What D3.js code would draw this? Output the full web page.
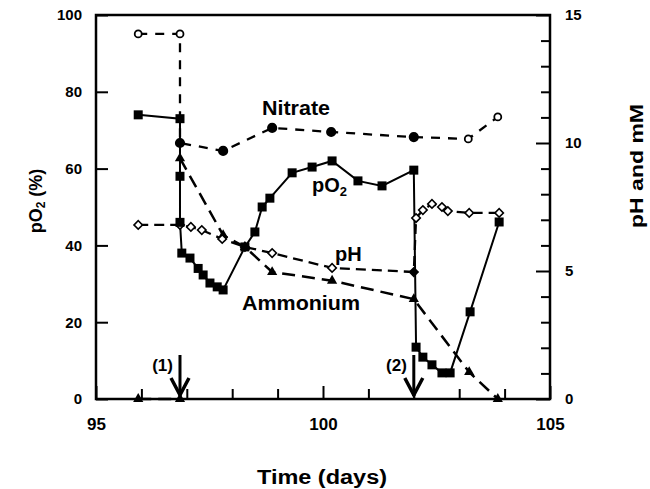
<!DOCTYPE html>
<html><head><meta charset="utf-8">
<script src="https://cdn.jsdelivr.net/npm/d3@7"></script>
<style>
html,body{margin:0;padding:0;background:#fff;}
svg{display:block;font-family:"Liberation Sans",Arial,Helvetica,sans-serif;font-weight:bold;}
</style></head>
<body>
<svg id="chart" width="650" height="489"></svg>
<script>
// ---- data ----
const pO2Days = [95.93, 96.85, 96.85, 96.85, 96.89, 97.07, 97.25, 97.36, 97.51, 97.67, 97.8, 98.28, 98.5, 98.66, 98.83, 99.32, 99.76, 100.2, 100.77, 101.3, 102.0, 102.05, 102.2, 102.4, 102.62, 102.8, 103.24, 103.88];
const pO2Values = [74, 73, 58, 46, 38, 36.7, 34, 32.3, 30.2, 29.2, 28.4, 39.6, 43.5, 50, 52.3, 58.9, 60.4, 62, 56.8, 55.5, 59.6, 13.5, 10.9, 8.9, 6.8, 6.8, 22.7, 46.1];

const nitrateDays = [95.93, 96.85, 96.85, 97.8, 98.88, 100.18, 102.0, 103.2, 103.85];
const nitrateValues = [14.26, 14.26, 10.0, 9.69, 10.59, 10.43, 10.23, 10.16, 11.02];
const nitrateOpen = [true, true, false, false, false, false, false, true, true];

const pHDays = [95.93, 96.85, 97.09, 97.33, 97.78, 98.28, 98.88, 100.2, 102.0, 102.05, 102.2, 102.4, 102.62, 102.75, 103.22, 103.88];
const pHValues = [6.8, 6.8, 6.72, 6.6, 6.25, 5.94, 5.7, 5.12, 4.96, 7.07, 7.38, 7.62, 7.5, 7.34, 7.27, 7.27];
const pHFilled = [false, false, false, false, false, false, false, false, true, false, false, false, false, false, false, false];

// ammonium: before addition (1) and after addition (1)
const ammoniumBeforeDays = [95.93, 96.85];
const ammoniumBeforeValues = [0, 0];
const ammoniumDays = [96.85, 97.8, 98.28, 98.88, 100.2, 102.0, 103.22, 103.85];
const ammoniumValues = [9.4, 6.4, 5.94, 4.96, 4.62, 3.9, 1.05, 0];

const xTicks = [96, 97, 98, 99, 101, 102, 103, 104];
const xLabels = [95, 100, 105];
const leftTicks = [0, 20, 40, 60, 80, 100];
const rightMinor = [1, 2, 3, 4, 6, 7, 8, 9, 11, 12, 13, 14];
const rightMajor = [0, 5, 10, 15];
const additionDays = [96.85, 102.0];
const additionLabels = ["(1)", "(2)"];

// ---- layout ----
const svg = d3.select("#chart");
const L = 96, R = 550, T = 15, B = 399;
const x = d3.scaleLinear().domain([95, 105]).range([L, R]);
const yL = d3.scaleLinear().domain([0, 100]).range([B, T]);
const yR = d3.scaleLinear().domain([0, 15]).range([B, T]);

function zip(a, b) { return a.map((d, i) => [d, b[i]]); }
const pO2 = zip(pO2Days, pO2Values);
const nitrate = zip(nitrateDays, nitrateValues);
const pH = zip(pHDays, pHValues);
const ammBefore = zip(ammoniumBeforeDays, ammoniumBeforeValues);
const amm = zip(ammoniumDays, ammoniumValues);

// axes
const axL = svg.append("g").attr("transform", `translate(${L},0)`)
  .call(d3.axisLeft(yL).tickValues(leftTicks).tickSize(-12).tickPadding(14).tickFormat(d3.format("d")));
const axRm = svg.append("g").attr("transform", `translate(${R},0)`)
  .call(d3.axisRight(yR).tickValues(rightMinor).tickSize(-9).tickFormat(""));
const axRM = svg.append("g").attr("transform", `translate(${R},0)`)
  .call(d3.axisRight(yR).tickValues(rightMajor).tickSize(-14).tickPadding(15).tickFormat(d3.format("d")));
const axB = svg.append("g").attr("transform", `translate(0,${B})`)
  .call(d3.axisBottom(x).tickValues(xTicks).tickSize(-10).tickFormat(""));
const axBL = svg.append("g").attr("transform", `translate(0,${B})`)
  .call(d3.axisBottom(x).tickValues(xLabels).tickSize(-13).tickPadding(19).tickFormat(d3.format("d")));
[axL, axRm, axRM, axB, axBL].forEach(g => {
  g.select(".domain").remove();
  g.selectAll(".tick line").attr("stroke", "#000").attr("stroke-width", 2);
  g.selectAll("text").attr("fill", "#000").attr("font-family", "Liberation Sans, Arial, sans-serif").attr("font-weight", "bold");
});
axL.selectAll("text").attr("font-size", 15);
axRM.selectAll("text").attr("font-size", 15);
axBL.selectAll("text").attr("font-size", 17);

// frame
svg.append("rect").attr("x", L).attr("y", T).attr("width", R - L).attr("height", B - T)
  .attr("fill", "none").attr("stroke", "#000").attr("stroke-width", 2.5);

// lines
const lineL = d3.line().x(d => x(d[0])).y(d => yL(d[1]));
const lineR = d3.line().x(d => x(d[0])).y(d => yR(d[1]));

[ammBefore, amm].forEach(s => {
  svg.append("path").datum(s).attr("d", lineR).attr("fill", "none").attr("stroke", "#000")
    .attr("stroke-width", 2.5).attr("stroke-dasharray", "13,7");
});
svg.append("path").datum(pH).attr("d", lineR).attr("fill", "none").attr("stroke", "#000")
  .attr("stroke-width", 2.3).attr("stroke-dasharray", "10,6");
svg.append("path").datum(nitrate).attr("d", lineR).attr("fill", "none").attr("stroke", "#000")
  .attr("stroke-width", 2.3).attr("stroke-dasharray", "9,8");
svg.append("path").datum(pO2).attr("d", lineL).attr("fill", "none").attr("stroke", "#000")
  .attr("stroke-width", 2);

// markers
svg.append("g").selectAll("path").data(ammBefore.concat(amm)).join("path")
  .attr("transform", d => `translate(${x(d[0])},${yR(d[1])})`)
  .attr("d", d3.symbol().type(d3.symbolTriangle).size(45)).attr("fill", "#000");
svg.append("g").selectAll("path").data(pH).join("path")
  .attr("transform", d => `translate(${x(d[0])},${yR(d[1])}) rotate(45)`)
  .attr("d", d3.symbol().type(d3.symbolSquare).size(36))
  .attr("fill", (d, i) => pHFilled[i] ? "#000" : "#fff").attr("stroke", "#000").attr("stroke-width", 1.6);
svg.append("g").selectAll("circle").data(nitrate).join("circle")
  .attr("cx", d => x(d[0])).attr("cy", d => yR(d[1])).attr("r", (d, i) => nitrateOpen[i] ? 3.5 : 4.2)
  .attr("fill", (d, i) => nitrateOpen[i] ? "#fff" : "#000").attr("stroke", "#000").attr("stroke-width", 1.8);
svg.append("g").selectAll("rect").data(pO2).join("rect")
  .attr("x", d => x(d[0]) - 4.5).attr("y", d => yL(d[1]) - 4.5).attr("width", 9).attr("height", 9)
  .attr("fill", "#000");

// addition arrows
additionDays.forEach((d, i) => {
  const ax = x(d);
  const g = svg.append("g");
  g.append("line").attr("x1", ax).attr("x2", ax).attr("y1", 355).attr("y2", 396)
    .attr("stroke", "#000").attr("stroke-width", 3);
  g.append("path").attr("d", `M${ax - 9},${378} L${ax},${395} L${ax + 9},${378}`)
    .attr("fill", "none").attr("stroke", "#000").attr("stroke-width", 3.5);
  g.append("text").attr("x", ax - 7).attr("y", 371).attr("text-anchor", "end")
    .attr("font-size", 17).text(additionLabels[i]);
});

// series labels
svg.append("text").attr("x", 262).attr("y", 115).attr("font-size", 20)
  .attr("textLength", 68).attr("lengthAdjust", "spacingAndGlyphs").text("Nitrate");
const po = svg.append("text").attr("x", 312).attr("y", 192).attr("font-size", 20);
po.append("tspan").text("pO");
po.append("tspan").attr("font-size", 13).attr("dy", 4).text("2");
svg.append("text").attr("x", 335).attr("y", 261).attr("font-size", 20).text("pH");
svg.append("text").attr("x", 242).attr("y", 310).attr("font-size", 20)
  .attr("textLength", 118).attr("lengthAdjust", "spacingAndGlyphs").text("Ammonium");

// axis titles
const lt = svg.append("text").attr("transform", "translate(42,201) rotate(-90)")
  .attr("text-anchor", "middle").attr("font-size", 18);
lt.append("tspan").text("pO");
lt.append("tspan").attr("font-size", 12).attr("dy", 3).text("2");
lt.append("tspan").attr("dy", -3).text(" (%)");
svg.append("text").attr("transform", "translate(643,166) rotate(-90)")
  .attr("text-anchor", "middle").attr("font-size", 18).attr("textLength", 124)
  .attr("lengthAdjust", "spacingAndGlyphs").text("pH and mM");
svg.append("text").attr("x", 322).attr("y", 484).attr("text-anchor", "middle")
  .attr("font-size", 20).attr("textLength", 130).attr("lengthAdjust", "spacingAndGlyphs").text("Time (days)");
</script>
</body></html>
